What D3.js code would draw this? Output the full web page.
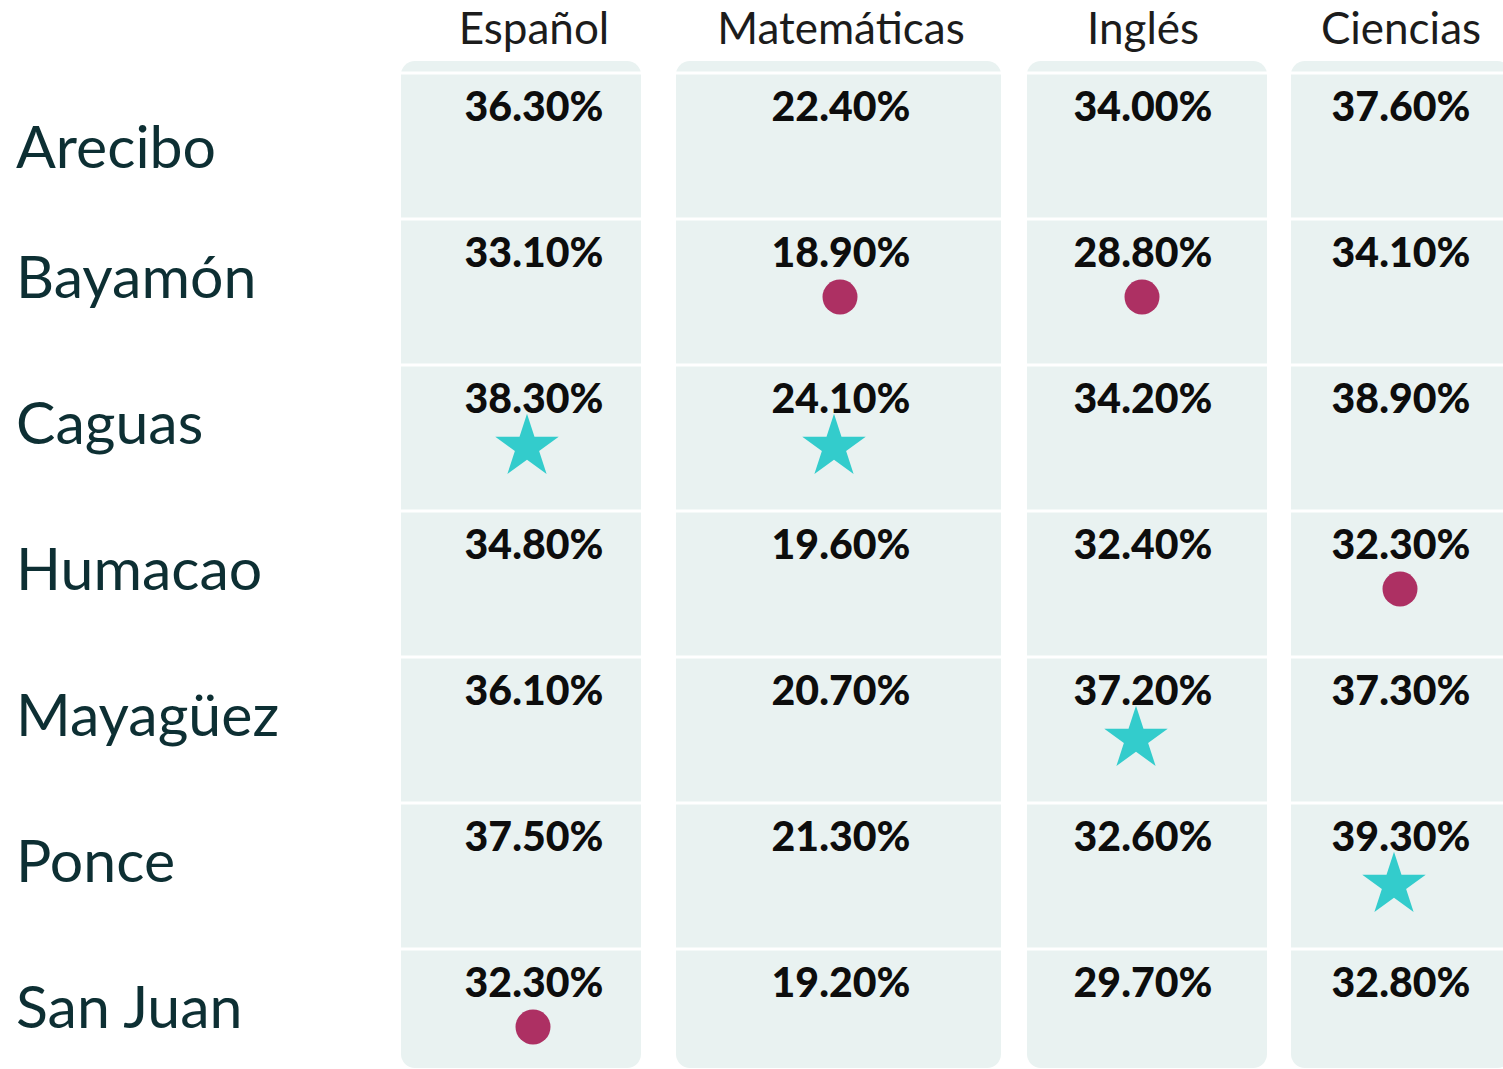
<!DOCTYPE html>
<html>
<head>
<meta charset="utf-8">
<script src="https://cdn.jsdelivr.net/npm/d3@7"></script>
<style>
  body { margin: 0; background: #fff; }
  svg { display: block; font-family: Lato, "Open Sans", sans-serif; }
</style>
</head>
<body>
<svg id="chart" width="1503" height="1069"></svg>
<script>
var regions = ['Arecibo', 'Bayamón', 'Caguas', 'Humacao', 'Mayagüez', 'Ponce', 'San Juan'];
var subjects = ['Español', 'Matemáticas', 'Inglés', 'Ciencias'];

var espanol = [36.3, 33.1, 38.3, 34.8, 36.1, 37.5, 32.3];
var matematicas = [22.4, 18.9, 24.1, 19.6, 20.7, 21.3, 19.2];
var ingles = [34.0, 28.8, 34.2, 32.4, 37.2, 32.6, 29.7];
var ciencias = [37.6, 34.1, 38.9, 32.3, 37.3, 39.3, 32.8];

var series = [espanol, matematicas, ingles, ciencias];

// layout of the four panels (left edge, width, text centre)
var panelLeft = [401, 676, 1027, 1291];
var panelWidth = [240, 325, 240, 220];
var textCenter = [534, 841, 1143, 1401];

var svg = d3.select('#chart');

var y = d3.scaleBand()
    .domain(regions)
    .range([73, 73 + 146 * regions.length])
    .paddingInner(0);

var fmt = function(v) { return d3.format('.2f')(v) + '%'; };

svg.append('defs').append('clipPath')
    .attr('id', 'clip')
    .append('rect')
    .attr('width', 1503)
    .attr('height', 1069);

var star = d3.symbol().type(d3.symbolStar).size(1250);

subjects.forEach(function(s, i) {
    var vals = series[i];
    var x0 = panelLeft[i], w = panelWidth[i], cx = textCenter[i];
    var g = svg.append('g').attr('clip-path', 'url(#clip)');

    g.append('rect')
        .attr('x', x0)
        .attr('y', 61)
        .attr('width', w)
        .attr('height', 1068 - 61)
        .attr('rx', 14)
        .attr('fill', '#e9f2f1');

    // white separators
    g.selectAll('line.sep')
        .data(regions)
        .enter().append('line')
        .attr('x1', x0).attr('x2', x0 + w)
        .attr('y1', function(d) { return y(d); })
        .attr('y2', function(d) { return y(d); })
        .attr('stroke', '#fff')
        .attr('stroke-width', 3);

    svg.append('text')
        .attr('x', cx)
        .attr('y', 44)
        .attr('text-anchor', 'middle')
        .attr('font-size', 44)
        .attr('fill', '#1c1c1c')
        .text(s);

    svg.selectAll('text.v' + i)
        .data(regions)
        .enter().append('text')
        .attr('x', cx)
        .attr('y', function(d) { return y(d) + 48; })
        .attr('text-anchor', 'middle')
        .attr('font-size', 41)
        .attr('font-weight', 900)
        .attr('fill', '#0d0d0d')
        .text(function(d, j) { return fmt(vals[j]); });

    var hi = d3.maxIndex(vals), lo = d3.minIndex(vals);

    svg.append('path')
        .attr('d', star)
        .attr('transform', 'translate(' + (cx - 7) + ',' + (y(regions[hi]) + 82) + ')')
        .attr('fill', '#33cccc');

    svg.append('circle')
        .attr('cx', cx - 1)
        .attr('cy', y(regions[lo]) + 78)
        .attr('r', 17.5)
        .attr('fill', '#ad3063');
});

svg.selectAll('text.region')
    .data(regions)
    .enter().append('text')
    .attr('x', 16)
    .attr('y', function(d, i) { return y(d) + (i === 0 ? 95 : 79); })
    .attr('font-size', 59)
    .attr('fill', '#0d2f33')
    .text(function(d) { return d; });
</script>
</body>
</html>
